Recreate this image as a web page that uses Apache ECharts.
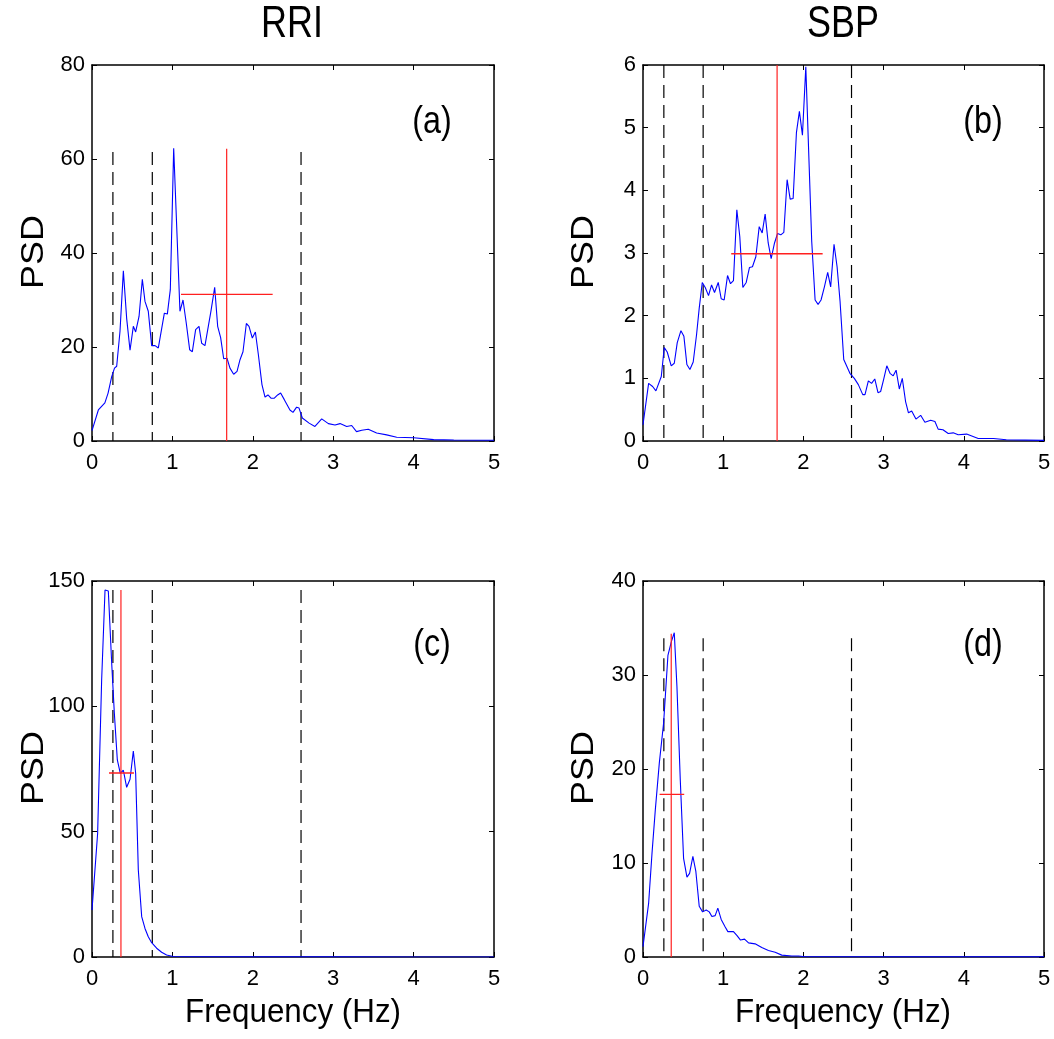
<!DOCTYPE html>
<html><head><meta charset="utf-8">
<script src="https://cdn.jsdelivr.net/npm/echarts@6/dist/echarts.min.js"></script>
<style>html,body{margin:0;padding:0;background:#fff}#chart{width:1054px;height:1039px}</style>
</head><body><div id="chart"></div>
<script>
// ---------- data ----------
const columnTitles = ['RRI', 'SBP'];
const panelTags = ['(a)', '(b)', '(c)', '(d)'];
const yLabel = 'PSD';
const xLabel = 'Frequency (Hz)';
const xTicks = [0, 1, 2, 3, 4, 5];
const yMax = [80, 6, 150, 40];
const yStep = [20, 1, 50, 10];

// (a) RRI, upper
const freqA = [0.0,0.079,0.16,0.2,0.245,0.28,0.307,0.348,0.39,0.431,0.473,0.514,0.543,0.585,0.626,0.659,0.70,0.742,0.784,0.825,0.90,0.937,0.974,1.016,1.094,1.132,1.173,1.215,1.248,1.289,1.331,1.364,1.405,1.48,1.526,1.563,1.60,1.638,1.679,1.716,1.762,1.804,1.841,1.878,1.92,1.953,1.994,2.032,2.069,2.114,2.152,2.189,2.226,2.268,2.309,2.346,2.392,2.462,2.50,2.545,2.575,2.616,2.70,2.773,2.857,2.94,3.022,3.085,3.168,3.23,3.29,3.355,3.436,3.54,3.665,3.79,4.0,4.25,4.5,5.0];
const psdA  = [2.2,6.6,8.1,10.2,13.7,15.5,15.9,23.3,36.2,26.1,19.3,24.4,23.2,26.5,34.4,29.7,27.6,20.3,20.3,19.8,27.2,27.0,32.2,62.3,27.6,30.0,25.0,19.4,19.0,23.7,24.4,20.8,20.3,27.7,32.7,24.4,22.0,17.5,17.6,15.5,14.2,14.8,17.3,19.0,25.0,24.4,21.9,23.2,18.4,12.0,9.35,9.8,9.1,9.1,9.8,10.2,8.8,6.6,6.1,7.2,7.0,4.9,3.8,3.1,4.7,3.7,3.4,3.7,3.1,3.3,2.0,2.3,2.5,1.7,1.3,0.8,0.7,0.3,0.2,0.15];

// (b) SBP, upper
const freqB = [0.0,0.07,0.12,0.161,0.228,0.265,0.302,0.352,0.39,0.427,0.473,0.51,0.547,0.585,0.626,0.668,0.701,0.739,0.776,0.817,0.855,0.892,0.938,0.975,1.012,1.054,1.091,1.128,1.17,1.207,1.245,1.287,1.328,1.365,1.407,1.449,1.486,1.523,1.561,1.598,1.64,1.677,1.718,1.756,1.797,1.835,1.872,1.913,1.95,1.988,2.03,2.104,2.146,2.183,2.22,2.262,2.303,2.34,2.382,2.42,2.457,2.503,2.58,2.635,2.685,2.74,2.768,2.81,2.85,2.89,2.93,2.963,3.0,3.04,3.08,3.12,3.156,3.196,3.233,3.274,3.31,3.35,3.403,3.462,3.515,3.587,3.64,3.68,3.74,3.806,3.868,3.93,4.035,4.18,4.37,4.53,5.0];
const psdB  = [0.26,0.92,0.87,0.80,1.03,1.49,1.42,1.20,1.24,1.57,1.76,1.67,1.22,1.14,1.26,1.70,2.12,2.53,2.45,2.32,2.49,2.37,2.53,2.27,2.25,2.64,2.51,2.56,3.69,3.26,2.45,2.53,2.77,2.78,2.94,3.42,3.32,3.62,3.16,2.91,3.16,3.31,3.29,3.33,4.17,3.86,3.87,4.92,5.26,4.88,5.97,3.18,2.25,2.18,2.25,2.46,2.69,2.46,3.14,2.78,2.23,1.30,1.08,1.00,0.90,0.74,0.74,0.96,0.92,0.99,0.77,0.79,0.98,1.20,1.08,1.04,1.13,0.83,1.0,0.63,0.45,0.48,0.35,0.41,0.30,0.33,0.31,0.19,0.18,0.12,0.13,0.10,0.11,0.04,0.04,0.02,0.01];

// (c) RRI, lower
const freqC = [0.0,0.07,0.12,0.162,0.203,0.245,0.278,0.315,0.352,0.39,0.431,0.473,0.514,0.543,0.576,0.618,0.659,0.70,0.742,0.804,0.866,0.928,1.01,1.156,2.0,3.0,4.0,5.0];
const psdC  = [18.7,49.3,110.5,146.4,146.0,117.2,97.2,78.6,73.3,74.5,67.7,70.9,82.2,73.3,34.7,16.1,11.4,8.1,5.7,3.5,1.9,0.8,0.2,0.1,0.05,0.03,0.02,0.01];

// (d) SBP, lower
const freqD = [0.0,0.07,0.112,0.153,0.203,0.257,0.311,0.352,0.39,0.423,0.465,0.506,0.548,0.581,0.622,0.659,0.701,0.743,0.788,0.826,0.859,0.90,0.933,0.975,1.025,1.058,1.128,1.17,1.216,1.266,1.316,1.398,1.481,1.564,1.648,1.73,1.855,1.94,2.02,3.0,4.0,5.0];
const psdD  = [1.1,5.7,11.0,15.6,20.6,24.9,32.1,33.5,34.5,28.8,18.8,10.5,8.5,8.9,10.7,9.1,5.4,4.8,5.0,4.8,4.3,4.4,5.2,4.0,3.2,2.7,2.7,2.3,1.8,1.9,1.5,1.4,1.0,0.7,0.5,0.2,0.1,0.1,0.03,0.01,0.01,0.01];

// band edges (dashed) and their heights per panel
const bandEdges = [0.26, 0.75, 2.6];
const dashTop = [61.5, 6, 146.4, 33.9];
// centroid cross (red): centre frequency, centre PSD, spread limits, vertical top
const crossFreq = [1.675, 1.672, 0.36, 0.352];
const crossPSD  = [31.2, 2.987, 73.4, 17.3];
const spreadLo  = [1.107, 1.10, 0.211, 0.207];
const spreadHi  = [2.247, 2.24, 0.522, 0.514];
const crossTop  = [62.2, 6, 146.4, 34.4];

const curves = [[freqA, psdA], [freqB, psdB], [freqC, psdC], [freqD, psdD]];

// ---------- layout ----------
const grids = [
  {left: 92, top: 65, width: 402, height: 376},
  {left: 643, top: 65, width: 401, height: 376},
  {left: 92, top: 581, width: 402, height: 376},
  {left: 643, top: 581, width: 401, height: 376}
];
const FONT = "'Liberation Sans', Arial, Helvetica, sans-serif";
const axisLine = {show: true, onZero: false, lineStyle: {color: '#000', width: 1.5}};
const axisTick = {show: true, inside: true, length: 5, lineStyle: {color: '#000', width: 1}};
const labelStyle = {color: '#000', fontSize: 22, fontFamily: FONT};

const xAxes = [], yAxes = [], series = [];
grids.forEach((g, i) => {
  xAxes.push({gridIndex: i, type: 'value', min: xTicks[0], max: xTicks[xTicks.length - 1], interval: 1,
    position: 'bottom', axisLine, axisTick, splitLine: {show: false},
    axisLabel: Object.assign({show: true, margin: 11}, labelStyle)});
  xAxes.push({gridIndex: i, type: 'value', min: xTicks[0], max: xTicks[xTicks.length - 1], interval: 1,
    position: 'top', axisLine, axisTick, splitLine: {show: false}, axisLabel: {show: false}});
  yAxes.push({gridIndex: i, type: 'value', min: 0, max: yMax[i], interval: yStep[i],
    position: 'left', axisLine, axisTick, splitLine: {show: false},
    axisLabel: Object.assign({show: true, margin: 7}, labelStyle)});
  yAxes.push({gridIndex: i, type: 'value', min: 0, max: yMax[i], interval: yStep[i],
    position: 'right', axisLine, axisTick, splitLine: {show: false}, axisLabel: {show: false}});

  const xi = 2 * i, yi = 2 * i;
  const [fr, ps] = curves[i];
  // dashed band edges
  bandEdges.forEach(e => {
    series.push({type: 'line', xAxisIndex: xi, yAxisIndex: yi, showSymbol: false, silent: true, z: 2,
      data: [[e, dashTop[i]], [e, 0]],
      lineStyle: {color: '#000', width: 1.2, type: [13, 7]}});
  });
  // PSD curve
  series.push({type: 'line', xAxisIndex: xi, yAxisIndex: yi, showSymbol: false, z: 3,
    data: fr.map((f, k) => [f, ps[k]]),
    lineStyle: {color: '#0000ff', width: 1.1}});
  // red cross
  series.push({type: 'line', xAxisIndex: xi, yAxisIndex: yi, showSymbol: false, z: 4,
    data: [[crossFreq[i], 0], [crossFreq[i], crossTop[i]]],
    lineStyle: {color: '#ff2020', width: 1.2}});
  series.push({type: 'line', xAxisIndex: xi, yAxisIndex: yi, showSymbol: false, z: 4,
    data: [[spreadLo[i], crossPSD[i]], [spreadHi[i], crossPSD[i]]],
    lineStyle: {color: '#ff2020', width: 1.4}});
});

function txt(text, x, y, size, opts) {
  return Object.assign({type: 'text', x, y, silent: true,
    style: {text, x: 0, y: 0, align: 'center', verticalAlign: 'middle',
      textAlign: 'center', textVerticalAlign: 'middle',
      font: size + 'px ' + FONT, fill: '#000'}}, opts || {});
}
const graphics = [
  txt(columnTitles[0], 292, 25, 45, {scaleX: 0.8}),
  txt(columnTitles[1], 843, 25, 45, {scaleX: 0.8}),
  txt(panelTags[0], 432, 123, 38, {scaleX: 0.85}),
  txt(panelTags[1], 983, 123, 38, {scaleX: 0.85}),
  txt(panelTags[2], 432, 646, 38, {scaleX: 0.85}),
  txt(panelTags[3], 983, 646, 38, {scaleX: 0.85}),
  txt(yLabel, 34, 252, 36, {rotation: Math.PI / 2, scaleY: 0.87}),
  txt(yLabel, 584, 252, 36, {rotation: Math.PI / 2, scaleY: 0.87}),
  txt(yLabel, 34, 768, 36, {rotation: Math.PI / 2, scaleY: 0.87}),
  txt(yLabel, 584, 768, 36, {rotation: Math.PI / 2, scaleY: 0.87}),
  txt(xLabel, 293, 1013, 33, {scaleX: 0.95}),
  txt(xLabel, 843, 1013, 33, {scaleX: 0.95})
];

const chart = echarts.init(document.getElementById('chart'), null, {renderer: 'canvas'});
chart.setOption({
  animation: false,
  backgroundColor: '#fff',
  grid: grids.map(g => Object.assign({containLabel: false, outerBoundsMode: 'none'}, g)),
  xAxis: xAxes,
  yAxis: yAxes,
  series,
  graphic: graphics
});
</script></body></html>
